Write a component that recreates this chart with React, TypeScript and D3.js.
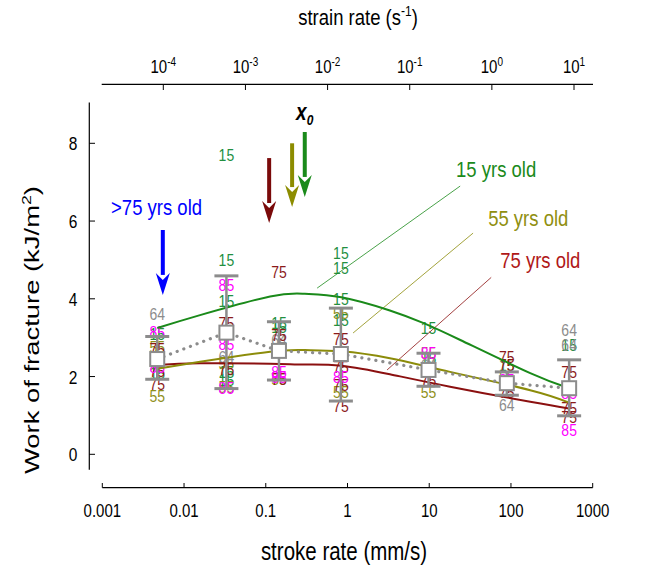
import React from 'react';
import * as d3 from 'd3';

// stroke rate columns (mm/s) and summary stats per column
const STROKE_RATES = [0.0047, 0.033, 0.145, 0.83, 9.8, 89, 515];
const MEAN_WOF = [2.45, 3.13, 2.66, 2.58, 2.17, 1.83, 1.7];
const UPPER_WOF = [3.03, 4.59, 3.41, 3.76, 2.6, 2.12, 2.43];
const LOWER_WOF = [1.93, 1.69, 1.91, 1.37, 1.75, 1.52, 0.99];

// individual specimens: [column index, work of fracture]
const AGE15: [number, number][] = [
  [0, 3.1], [0, 2.1], [1, 7.7], [1, 5.0], [1, 3.94], [1, 2.13], [1, 1.9],
  [2, 3.38], [2, 3.28], [3, 5.17], [3, 4.79], [3, 3.99], [3, 3.45],
  [4, 3.24], [4, 2.47], [5, 2.29], [6, 2.81],
];
const AGE55: [number, number][] = [
  [0, 2.75], [0, 1.5], [1, 3.09], [1, 2.35], [1, 1.74], [2, 1.95],
  [3, 3.63], [3, 1.61], [4, 2.6], [4, 1.61], [5, 2.0],
];
const AGE64: [number, number][] = [
  [0, 3.6], [1, 2.51], [2, 2.95], [4, 2.3], [5, 1.27], [6, 3.2], [6, 2.81],
];
const AGE75: [number, number][] = [
  [0, 2.7], [0, 2.15], [0, 1.8], [1, 3.38], [1, 2.2], [2, 4.7], [2, 3.07],
  [2, 1.94], [3, 2.96], [3, 2.25], [3, 1.78], [3, 1.25], [4, 2.17], [4, 1.91],
  [5, 2.51], [5, 2.29], [5, 1.61], [6, 2.12], [6, 1.19], [6, 0.97],
];
const AGE85: [number, number][] = [
  [0, 3.15], [0, 2.25], [1, 4.35], [1, 2.85], [1, 1.7], [2, 2.13], [2, 2.0],
  [3, 2.0], [4, 2.17], [4, 2.6], [5, 1.9], [6, 1.57], [6, 0.62],
];

// fitted curves: [stroke rate, work of fracture]
const CURVE_15: [number, number][] = [
  [0.0047, 3.25], [0.0157, 3.58], [0.113, 4.06], [0.3, 4.13], [0.84, 4.04],
  [3.3, 3.7], [8.4, 3.38], [24, 2.94], [172, 2.09], [515, 1.7],
];
const CURVE_55: [number, number][] = [
  [0.0047, 2.2], [0.0157, 2.38], [0.113, 2.64], [0.3, 2.68], [0.84, 2.65],
  [3.3, 2.47], [18, 2.12], [172, 1.65], [515, 1.33],
];
const CURVE_75: [number, number][] = [
  [0.0047, 2.3], [0.0157, 2.34], [0.113, 2.33], [0.3, 2.31], [0.84, 2.28],
  [3.3, 2.06], [18, 1.74], [172, 1.35], [515, 1.18],
];

const X_TICKS = [0.001, 0.01, 0.1, 1, 10, 100, 1000];
const TOP_TICK_EXP = [-4, -3, -2, -1, 0, 1];
const Y_TICKS = [0, 2, 4, 6, 8];

const C15 = '#1a8a1a';
const C55 = '#8c8c0a';
const C75 = '#8b1010';
const LABEL_COLORS: Record<string, string> = {
  '15': '#238f3f', '55': '#8f8f1a', '64': '#8c8c8c', '75': '#8b1a1a', '85': '#ff00ff',
};

const FONT = "'Liberation Sans', Arial, sans-serif";
const STRETCH = 1.22; // the original figure is a little taller than wide

// annotations in data units
const X0_ARROWS = [
  { x: 0.11, top: 7.62, tip: 5.95, color: '#7a0a0a' },
  { x: 0.21, top: 8.0, tip: 6.36, color: '#8c8c00' },
  { x: 0.3, top: 8.29, tip: 6.62, color: '#1a8a1a' },
];
const OLD_ARROW = { x: 0.0055, top: 5.77, tip: 4.1, color: '#0000ff' };
const LEADERS = [
  { x1: 23.9, y1: 6.9, x2: 0.425, y2: 4.275, color: C15 },
  { x1: 34.4, y1: 5.69, x2: 1.17, y2: 3.12, color: C55 },
  { x1: 57.3, y1: 4.55, x2: 3.05, y2: 2.17, color: C75 },
];
const LEGEND_TEXT = [
  { x: 21.3, y: 7.13, text: '15 yrs old', color: C15 },
  { x: 52.6, y: 5.87, text: '55 yrs old', color: '#8f8f10' },
  { x: 73.8, y: 4.79, text: '75 yrs old', color: '#b01818' },
  { x: 0.00128, y: 6.16, text: '>75 yrs old', color: '#0000ff' },
];

type TProps = React.SVGProps<SVGTextElement> & { px: number; py: number; children: React.ReactNode };
const T = ({ px, py, children, ...rest }: TProps) => (
  <text transform={`translate(${px},${py}) scale(1,${STRETCH})`} {...rest}>{children}</text>
);

export default function App() {
  const x = d3.scaleLog().domain([0.001, 1000]).range([102.3, 592.7]);
  const xTop = d3.scaleLog().domain([1e-4, 10]).range([163.3, 574]);
  const y = d3.scaleLinear().domain([0, 8]).range([454.3, 143.3]);

  const curve = d3.line<[number, number]>()
    .x(d => x(d[0]))
    .y(d => y(d[1]))
    .curve(d3.curveNatural);

  const meanLine = d3.line<number>()
    .x((_, i) => x(STROKE_RATES[i]))
    .y(d => y(d));

  const groups: [string, [number, number][]][] = [
    ['15', AGE15], ['55', AGE55], ['64', AGE64], ['75', AGE75], ['85', AGE85],
  ];

  const arrow = (a: { x: number; top: number; tip: number; color: string }, key: string) => {
    const ax = x(a.x);
    const y0 = y(a.top);
    const y1 = y(a.tip);
    const headLen = 22;
    const headW = 7;
    return (
      <g key={key}>
        <line x1={ax} x2={ax} y1={y0} y2={y1 - headLen + 2} stroke={a.color} strokeWidth={4} />
        <path
          d={`M${ax - headW},${y1 - headLen} L${ax},${y1 - headLen + 7} L${ax + headW},${y1 - headLen} L${ax},${y1} Z`}
          fill={a.color}
        />
      </g>
    );
  };

  return (
    <svg
      width={660}
      height={575}
      style={{ position: 'absolute', left: 0, top: 0, background: '#fff' }}
      fontFamily={FONT}
    >
      {/* top strain-rate axis */}
      <line x1={101.7} x2={593} y1={84.3} y2={84.3} stroke="#000" strokeWidth={1.2} />
      {TOP_TICK_EXP.map(e => (
        <g key={`t${e}`}>
          <line x1={xTop(10 ** e)} x2={xTop(10 ** e)} y1={84.3} y2={90} stroke="#000" />
          <T px={xTop(10 ** e)} py={73} textAnchor="middle" fontSize={15}>
            10<tspan fontSize={10} dy={-6}>{e}</tspan>
          </T>
        </g>
      ))}
      <T px={358} py={25} textAnchor="middle" fontSize={18.5}>
        strain rate (s<tspan fontSize={12} dy={-7}>-1</tspan><tspan dy={7}>)</tspan>
      </T>

      {/* y axis */}
      <line x1={89.3} x2={89.3} y1={y(9.05)} y2={y(-0.4)} stroke="#000" strokeWidth={1.2} />
      {Y_TICKS.map(t => (
        <g key={`y${t}`}>
          <line x1={89.3} x2={95} y1={y(t)} y2={y(t)} stroke="#000" />
          <T px={73} py={y(t) + 7} textAnchor="middle" fontSize={15.5}>{t}</T>
        </g>
      ))}
      <text
        transform={`translate(39, 330) rotate(-90)`}
        textAnchor="middle"
        fontSize={20}
        textLength={288}
        lengthAdjust="spacingAndGlyphs"
      >
        Work of fracture (kJ/m<tspan fontSize={13} dy={-8}>2</tspan><tspan dy={8}>)</tspan>
      </text>

      {/* bottom stroke-rate axis */}
      <line x1={102.3} x2={592.7} y1={487.7} y2={487.7} stroke="#000" strokeWidth={1.2} />
      {X_TICKS.map(t => (
        <g key={`x${t}`}>
          <line x1={x(t)} x2={x(t)} y1={483} y2={487.7} stroke="#000" />
          <T px={x(t)} py={517} textAnchor="middle" fontSize={15}>{String(t)}</T>
        </g>
      ))}
      <T px={344} py={560} textAnchor="middle" fontSize={20.5}>stroke rate (mm/s)</T>

      {/* individual specimens */}
      {groups.map(([age, pts]) =>
        pts.map(([c, v], i) => (
          <T
            key={`${age}-${i}`}
            px={x(STROKE_RATES[c])}
            py={y(v)}
            textAnchor="middle"
            dominantBaseline="central"
            fontSize={14}
            fill={LABEL_COLORS[age]}
          >
            {age}
          </T>
        ))
      )}

      {/* leader lines */}
      {LEADERS.map((l, i) => (
        <line key={`l${i}`} x1={x(l.x1)} y1={y(l.y1)} x2={x(l.x2)} y2={y(l.y2)} stroke={l.color} strokeWidth={0.8} />
      ))}

      {/* fitted curves */}
      <path d={curve(CURVE_75) ?? ''} fill="none" stroke={C75} strokeWidth={2} />
      <path d={curve(CURVE_55) ?? ''} fill="none" stroke={C55} strokeWidth={2} />
      <path d={curve(CURVE_15) ?? ''} fill="none" stroke={C15} strokeWidth={2} />

      {/* mean line */}
      <path
        d={meanLine(MEAN_WOF) ?? ''}
        fill="none"
        stroke="#8c8c8c"
        strokeWidth={3.2}
        strokeDasharray="0.1 7"
        strokeLinecap="round"
      />

      {/* error bars and means */}
      {STROKE_RATES.map((r, i) => {
        const cx = x(r);
        return (
          <g key={`e${i}`}>
            <line x1={cx} x2={cx} y1={y(UPPER_WOF[i])} y2={y(LOWER_WOF[i])} stroke="#8c8c8c" strokeWidth={2.5} />
            <line x1={cx - 12} x2={cx + 12} y1={y(UPPER_WOF[i])} y2={y(UPPER_WOF[i])} stroke="#8c8c8c" strokeWidth={3} />
            <line x1={cx - 12} x2={cx + 12} y1={y(LOWER_WOF[i])} y2={y(LOWER_WOF[i])} stroke="#8c8c8c" strokeWidth={3} />
            <rect x={cx - 7} y={y(MEAN_WOF[i]) - 7} width={14} height={14} fill="#fff" stroke="#8c8c8c" strokeWidth={2} />
          </g>
        );
      })}

      {/* arrows */}
      {X0_ARROWS.map((a, i) => arrow(a, `a${i}`))}
      {arrow(OLD_ARROW, 'old')}
      <T px={x(0.235)} py={y(8.59)} fontSize={19} fontWeight="bold" fontStyle="italic">
        x<tspan fontSize={12} dy={4}>0</tspan>
      </T>

      {LEGEND_TEXT.map((t, i) => (
        <T key={`g${i}`} px={x(t.x)} py={y(t.y)} fontSize={18.5} fill={t.color}>{t.text}</T>
      ))}
    </svg>
  );
}
